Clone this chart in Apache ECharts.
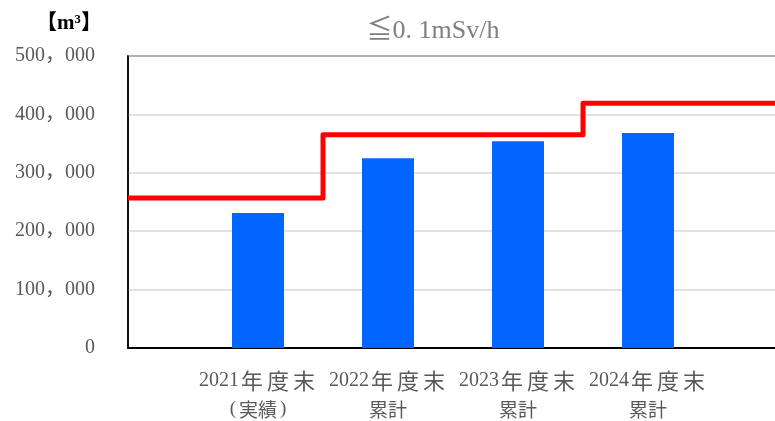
<!DOCTYPE html>
<html>
<head>
<meta charset="utf-8">
<script src="https://cdn.jsdelivr.net/npm/echarts@6/dist/echarts.min.js"></script>
<style>
  html, body { margin: 0; padding: 0; background: #fff; overflow: hidden; }
  #chart { width: 775px; height: 421px; }
</style>
</head>
<body>
<div id="chart"></div>
<script>
// categories (blank slots at both ends keep the step line running to the edges)
const categories = ["", "2021年度末\n(実績)", "2022年度末\n累計", "2023年度末\n累計", "2024年度末\n累計", ""];
// stored volume (m3)
const volumes = [null, 231000, 325000, 354000, 368000, null];
// capacity line (m3)
const capacity = [257000, 257000, 365000, 365000, 419000, 419000];
// y tick labels
const yTicks = { 0: "0", 100000: "100，000", 200000: "200，000", 300000: "300，000", 400000: "400，000", 500000: "500，000" };

const FONT = '"Liberation Serif", "DejaVu Serif", "Noto Sans CJK JP", serif';
const CJK = '"Noto Sans CJK JP", sans-serif';

// split a category label into rich-text pieces (digits / kanji / parens)
function richLabel(s) {
  return s.split("\n").map((line, li) => {
    let out = "", buf = "";
    const flush = () => { if (buf) { out += "{d|" + buf + "}"; buf = ""; } };
    for (const ch of line) {
      if (/[0-9]/.test(ch)) { buf += ch; continue; }
      flush();
      if (ch === "(" || ch === ")") out += "{p|" + ch + "}";
      else out += (li === 0 ? "{c|" : "{k|") + ch + "}";
    }
    flush();
    return out;
  }).join("\n");
}

const chart = echarts.init(document.getElementById("chart"));
chart.setOption({
  animation: false,
  graphic: [
    {
      type: "text", x: 433, y: 31,
      style: {
        text: "≦0. 1mSv/h", align: "center", verticalAlign: "middle",
        font: "26px " + FONT, fill: "#7f7f7f"
      }
    },
    {
      type: "text", x: 69, y: 24,
      style: {
        text: "【m³】", align: "center", verticalAlign: "middle",
        font: "bold 21px " + FONT, fill: "#000"
      }
    }
  ],
  grid: {
    left: 128,
    top: 56,
    width: 650,
    height: 292,
    show: true,
    borderColor: "#000",
    borderWidth: 1.5,
    containLabel: false,
    outerBoundsMode: "none"
  },
  xAxis: {
    type: "category",
    data: categories,
    boundaryGap: false,
    axisLine: { lineStyle: { color: "#000", width: 2 } },
    axisTick: { show: false },
    axisLabel: {
      interval: 0,
      margin: 18,
      color: "#595959",
      lineHeight: 29,
      formatter: v => richLabel(v),
      rich: {
        d: { fontFamily: FONT, fontSize: 20, color: "#595959", lineHeight: 29 },
        c: { fontFamily: CJK, fontSize: 22, color: "#595959", padding: [0, 2, 0, 2], lineHeight: 29 },
        k: { fontFamily: CJK, fontSize: 19, color: "#595959", lineHeight: 29 },
        p: { fontFamily: FONT, fontSize: 19, color: "#595959", padding: [0, 3, 0, 3], lineHeight: 29 }
      }
    }
  },
  yAxis: {
    type: "value",
    min: 0,
    max: 500000,
    interval: 100000,
    axisLine: { show: true, lineStyle: { color: "#000", width: 1.5 } },
    axisTick: { show: false },
    splitLine: { lineStyle: { color: "#d9d9d9", width: 1.5 } },
    axisLabel: {
      margin: 33,
      fontFamily: FONT,
      fontSize: 20,
      color: "#595959",
      formatter: v => yTicks[v]
    }
  },
  series: [
    {
      type: "bar",
      data: volumes,
      barWidth: 52,
      itemStyle: { color: "#0066ff" }
    },
    {
      type: "line",
      data: capacity,
      step: "middle",
      symbol: "none",
      lineStyle: { color: "#ff0000", width: 5, join: "round" }
    }
  ]
});
</script>
</body>
</html>
